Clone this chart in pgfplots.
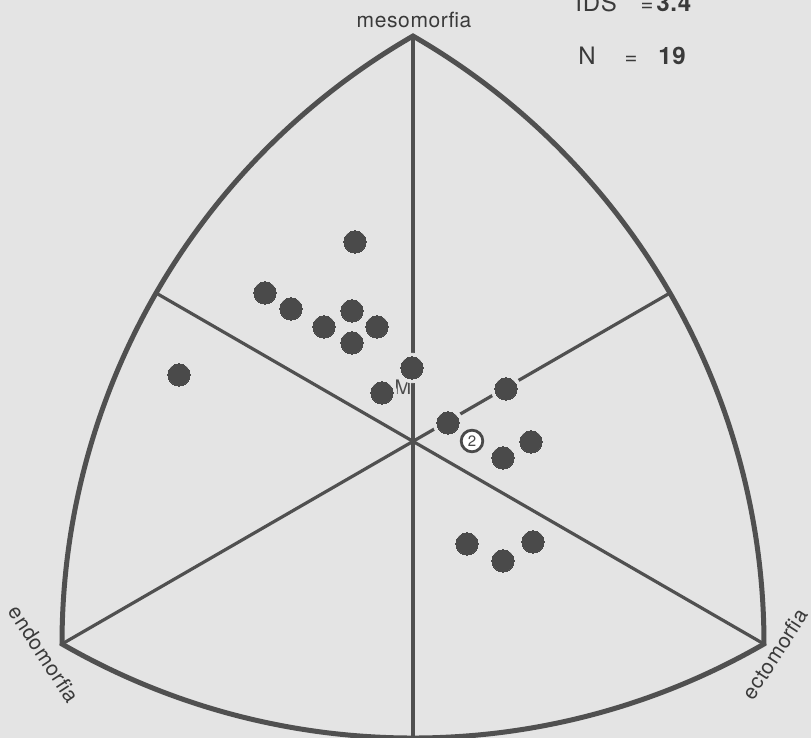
\documentclass[border=0pt]{standalone}
\usepackage{pgfplots}
\usepackage{pgfplotstable}
\pgfplotsset{compat=1.18}
\usepackage{fontspec}
\setmainfont{TeX Gyre Heros}[LetterSpace=3]

\definecolor{bg}{HTML}{E4E4E4}
\definecolor{ink}{HTML}{4A4A4A}
\definecolor{frame}{HTML}{505050}
\definecolor{txt}{HTML}{3A3A3A}

% somatoplots of the individual subjects (chart units)
\pgfplotstableread{
x y
355 496
265 445
291 429
324 411
352 427
377 411
352 395
179 363
412 370
382 345
448 315
506 349
531 296
503 280
467 194
503 177
533 196
}\sujetos

\begin{document}
\begin{tikzpicture}
\begin{axis}[
  x=0.5pt, y=0.5pt,
  xmin=0, xmax=811, ymin=0, ymax=738,
  hide axis, clip=false,
  disabledatascaling,
]
\fill[bg] (axis cs:0,0) rectangle (axis cs:811,738);

% Reuleaux frame of the somatochart
\draw[frame, line width=2.5pt, line join=miter]
  (axis cs:62,94) arc[start angle=240, end angle=300, radius=351pt]
  arc[start angle=0, end angle=60, radius=351pt]
  arc[start angle=120, end angle=180, radius=351pt] -- cycle;

% axes through the centroid
\draw[frame, line width=1.6pt] (axis cs:413,702) -- (axis cs:413,1);
\draw[frame, line width=1.6pt] (axis cs:62,94) -- (axis cs:670,445);
\draw[frame, line width=1.6pt] (axis cs:764,94) -- (axis cs:156,445);

% halo, then the points
\addplot[bg, only marks, mark=*, mark size=7.4pt, mark options={fill=bg, draw=bg}]
  table {\sujetos};
\addplot[bg, only marks, mark=*, mark size=7.4pt, mark options={fill=bg, draw=bg}]
  coordinates {(472,297)};
\addplot[ink, only marks, mark=*, mark size=5.6pt, mark options={fill=ink, draw=ink, line width=0pt}]
  table {\sujetos};
% two coincident subjects
\addplot[ink, only marks, mark=*, mark size=5.4pt,
  mark options={fill=white, draw=ink, line width=1.4pt},
  nodes near coords={\fontsize{7.5}{8}\selectfont\color{ink}2},
  every node near coord/.append style={anchor=center, inner sep=0pt}]
  coordinates {(472,297)};

\node[text=gray!60!black, font=\fontsize{10}{10}\selectfont, inner sep=0pt]
  at (axis cs:403,351) {M};

\node[anchor=base, inner sep=0pt, text=txt, font=\fontsize{10.5}{12}\selectfont]
  at (axis cs:414,710) {mesomorfia};
\node[rotate=-57, inner sep=0pt, text=txt, font=\fontsize{10.5}{12}\selectfont]
  at (axis cs:44,84) {endomorfia};
\node[rotate=57, inner sep=0pt, text=txt, font=\fontsize{10.5}{12}\selectfont]
  at (axis cs:775,84) {ectomorfia};

\node[anchor=base west, inner sep=0pt, text=txt, font=\fontsize{12}{13}\selectfont]
  at (axis cs:575,726) {IDS};
\node[anchor=base, inner sep=0pt, text=txt, font=\fontsize{11}{12}\selectfont]
  at (axis cs:647,726) {=};
\node[anchor=base west, inner sep=0pt, text=txt, font=\fontsize{12}{13}\selectfont\bfseries]
  at (axis cs:656,726) {3.4};
\node[anchor=base west, inner sep=0pt, text=txt, font=\fontsize{12}{13}\selectfont]
  at (axis cs:578,673) {N};
\node[anchor=base, inner sep=0pt, text=txt, font=\fontsize{11}{12}\selectfont]
  at (axis cs:631,673) {=};
\node[anchor=base west, inner sep=0pt, text=txt, font=\fontsize{12}{13}\selectfont\bfseries]
  at (axis cs:658,673) {19};
\end{axis}
\pgfresetboundingbox
\useasboundingbox (current axis.south west) rectangle (current axis.north east);
\end{tikzpicture}
\end{document}
